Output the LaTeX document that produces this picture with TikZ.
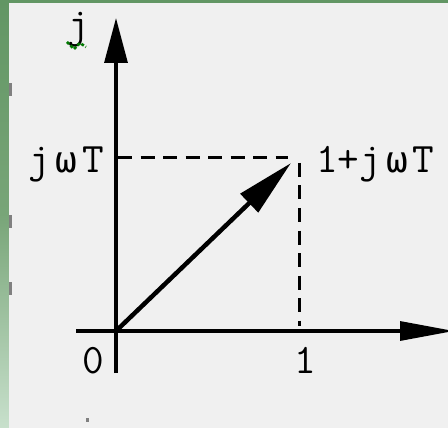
\documentclass[tikz,border=0pt]{standalone}
\usepackage{fontspec}
\newfontfamily\grkfont{DejaVu Sans Mono}
\usetikzlibrary{arrows.meta}
\definecolor{panel}{RGB}{240,240,240}
\definecolor{frameA}{RGB}{98,150,100}
\definecolor{frameB}{RGB}{120,165,120}
\definecolor{frameC}{RGB}{200,224,204}
\definecolor{markgray}{RGB}{128,128,128}
\definecolor{squig}{RGB}{0,120,0}
\newcommand{\omg}{\hspace{5pt}{\grkfont\fontsize{36}{36}\selectfont ω}\hspace{5pt}}
\tikzset{
  lbl/.style={font=\ttfamily\fontsize{42}{42}\selectfont, inner sep=0pt, text=black},
  axisline/.style={line width=3.2pt, draw=black},
  guide/.style={line width=3pt, draw=black, dash pattern=on 14pt off 8.5pt},
  vec/.style={line width=4.5pt, draw=black, -{Triangle[length=58pt,width=25pt]}},
}
\begin{document}
\begin{tikzpicture}[x=1pt,y=-1pt]
\useasboundingbox (0,0) rectangle (448,428);
% frame and panel
\fill[frameA] (0,0) rectangle (448,3);
\shade[top color=frameA, bottom color=frameC, middle color=frameB] (0,0) rectangle (9,428);
\fill[panel] (9,3) rectangle (448,428);
\fill[markgray] (9,83) rectangle (12,96);
\fill[markgray] (9,215) rectangle (12,228);
\fill[markgray] (9,282) rectangle (12,295);
\fill[markgray] (86,418) rectangle (89,422);
% coordinates
\coordinate (O) at (116,331);
\coordinate (ybot) at (116,373);
\coordinate (ytop) at (116,18);
\coordinate (xleft) at (76,331);
\coordinate (xright) at (454,331);
\coordinate (P) at (291,163);
\coordinate (hstart) at (118,158);
\coordinate (hend) at (288,158);
\coordinate (vstart) at (299,163);
\coordinate (vend) at (299,326);
% axes
\draw[axisline, -{Triangle[length=45pt,width=23pt]}] (ybot) -- (ytop);
\draw[axisline, -{Triangle[length=54pt,width=19pt]}] (xleft) -- (xright);
% guides
\draw[guide] (hstart) -- (hend);
\draw[guide] (vstart) -- (vend);
% vector
\draw[vec] (O) -- (P);
% labels
\node[lbl, anchor=base] (lj) at (78,38) {j};
\draw[squig, line width=2.5pt, dash pattern=on 3pt off 2pt] (67,42) -- (74,49) -- (80,43) -- (86,47);
\node[lbl, anchor=base east] (ljwt) at (104,173) {j\omg T};
\node[lbl, anchor=base west] (lp) at (316,173) {1+j\omg T};
\node[lbl, anchor=base east] (l0) at (104,373) {0};
\node[lbl, anchor=base] (l1) at (305,373) {1};
\end{tikzpicture}
\end{document}
